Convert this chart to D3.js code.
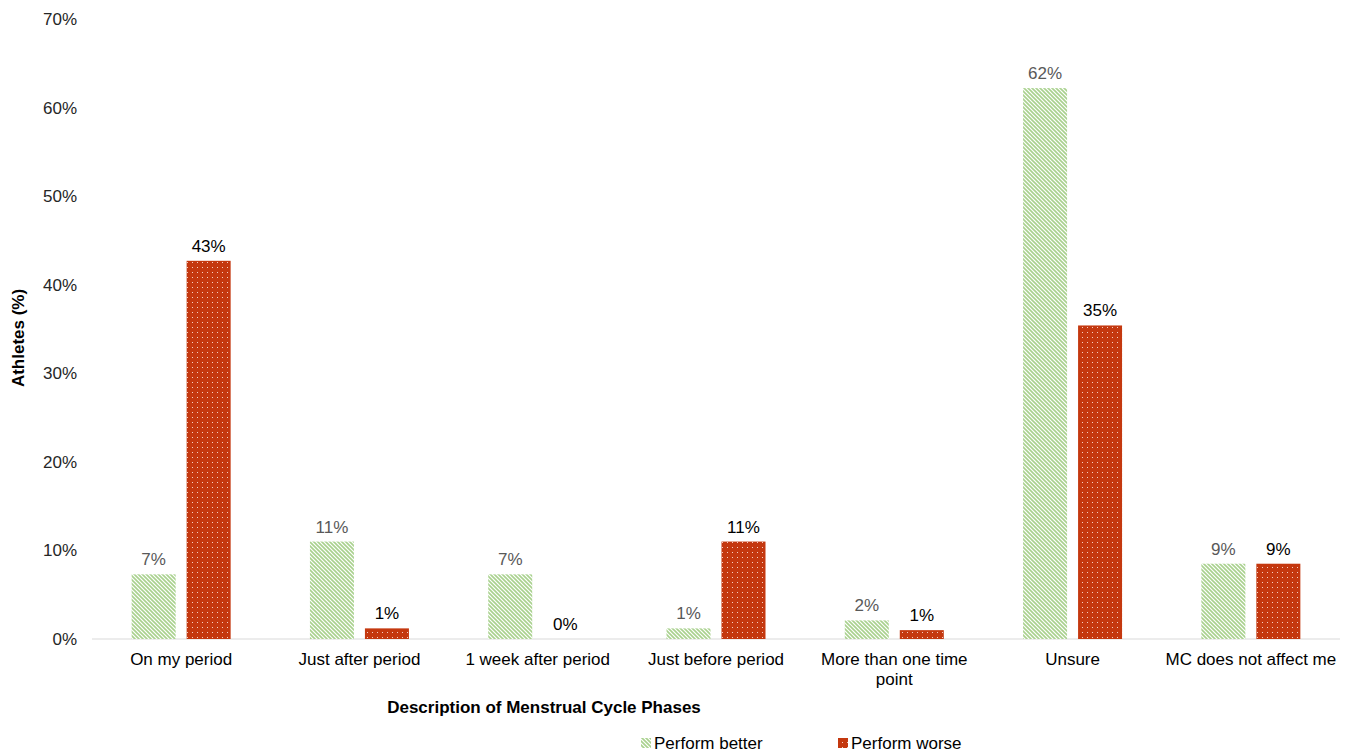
<!DOCTYPE html>
<html>
<head>
<meta charset="utf-8">
<script src="https://cdn.jsdelivr.net/npm/d3@7"></script>
<style>
  body { margin: 0; background: #fff; }
  svg text { font-family: "Liberation Sans", Arial, sans-serif; }
</style>
</head>
<body>
<div id="chart"></div>
<script>
(function () {
    let categories = ['On my period', 'Just after period', '1 week after period', 'Just before period',
        'More than one time point', 'Unsure', 'MC does not affect me'];
    let better = [7.3, 11.0, 7.3, 1.2, 2.1, 62.2, 8.5];
    let worse = [42.7, 1.2, 0, 11.0, 1.0, 35.4, 8.5];
    let betterLabels = ['7%', '11%', '7%', '1%', '2%', '62%', '9%'];
    let worseLabels = ['43%', '1%', '0%', '11%', '1%', '35%', '9%'];
    let seriesNames = ['Perform better', 'Perform worse'];
    let yTicks = [0, 10, 20, 30, 40, 50, 60, 70];

    let width = 1348, height = 752;
    let left = 92, right = 1340, top = 19, bottom = 639;
    let fs = 17;

    let svg = d3.select('#chart').append('svg')
        .attr('width', width)
        .attr('height', height);

    let defs = svg.append('defs');
    // green diagonal stripes
    let pg = defs.append('pattern')
        .attr('id', 'pat-better')
        .attr('patternUnits', 'userSpaceOnUse')
        .attr('width', 4).attr('height', 4);
    pg.append('rect').attr('width', 4).attr('height', 4).attr('fill', '#fff');
    pg.append('path')
        .attr('d', 'M-1,-1 L5,5 M-1,3 L1,5 M3,-1 L5,1')
        .attr('stroke', '#a9d18e')
        .attr('stroke-width', 1.6);
    // red with white dots
    let pr = defs.append('pattern')
        .attr('id', 'pat-worse')
        .attr('patternUnits', 'userSpaceOnUse')
        .attr('width', 5).attr('height', 5);
    pr.append('rect').attr('width', 5).attr('height', 5).attr('fill', '#c4380f');
    pr.append('rect').attr('x', 2).attr('y', 2).attr('width', 1).attr('height', 1).attr('fill', '#f4d0c4');

    let x = d3.scaleBand()
        .domain(categories)
        .range([left, right]);

    let xInner = d3.scaleBand()
        .domain([0, 1])
        .range([0, 99])
        .paddingInner(0.2);

    let y = d3.scaleLinear()
        .domain([0, 70])
        .range([bottom, top]);

    // y axis labels
    let axisY = d3.axisLeft(y)
        .tickValues(yTicks)
        .tickFormat(d => d + '%')
        .tickSize(0)
        .tickPadding(15);
    let gy = svg.append('g')
        .attr('transform', 'translate(' + left + ',0)')
        .call(axisY);
    gy.select('.domain').remove();
    gy.selectAll('text')
        .attr('font-size', fs)
        .attr('fill', '#262626')
        .attr('font-family', '"Liberation Sans", Arial, sans-serif');

    // baseline
    svg.append('line')
        .attr('x1', left).attr('x2', right)
        .attr('y1', bottom).attr('y2', bottom)
        .attr('stroke', '#d9d9d9');

    let series = [
        {values: better, labels: betterLabels, fill: 'url(#pat-better)', color: '#595959'},
        {values: worse, labels: worseLabels, fill: 'url(#pat-worse)', color: '#000'}
    ];

    series.forEach(function (s, si) {
        let g = svg.append('g');
        g.selectAll('rect')
            .data(s.values)
            .enter()
            .append('rect')
            .attr('x', (d, i) => x(categories[i]) + x.bandwidth() / 2 - 49.5 + xInner(si))
            .attr('y', d => y(d))
            .attr('width', xInner.bandwidth())
            .attr('height', d => bottom - y(d))
            .attr('fill', s.fill);
        g.selectAll('text')
            .data(s.values)
            .enter()
            .append('text')
            .attr('x', (d, i) => x(categories[i]) + x.bandwidth() / 2 - 49.5 + xInner(si) + xInner.bandwidth() / 2)
            .attr('y', d => y(d) - 9)
            .attr('text-anchor', 'middle')
            .attr('font-size', fs)
            .attr('fill', s.color)
            .text((d, i) => s.labels[i]);
    });

    // x category labels
    let axisX = d3.axisBottom(x).tickSize(0).tickPadding(14);
    let gx = svg.append('g')
        .attr('transform', 'translate(0,' + bottom + ')')
        .call(axisX);
    gx.select('.domain').remove();
    gx.selectAll('text')
        .attr('font-size', fs)
        .attr('fill', '#000')
        .attr('font-family', '"Liberation Sans", Arial, sans-serif')
        .each(function (d) {
            if (d === 'More than one time point') {
                let t = d3.select(this);
                t.text(null);
                t.append('tspan').attr('x', 0).attr('dy', '0.71em').text('More than one time');
                t.append('tspan').attr('x', 0).attr('dy', '1.2em').text('point');
                t.attr('dy', null);
            }
        });

    // axis titles
    svg.append('text')
        .attr('transform', 'translate(24,' + 338 + ') rotate(-90)')
        .attr('text-anchor', 'middle')
        .attr('font-size', fs)
        .attr('font-weight', 'bold')
        .text('Athletes (%)');

    svg.append('text')
        .attr('x', 544)
        .attr('y', 713)
        .attr('text-anchor', 'middle')
        .attr('font-size', fs)
        .attr('font-weight', 'bold')
        .text('Description of Menstrual Cycle Phases');

    // legend
    let legendX = [641, 838];
    seriesNames.forEach(function (name, i) {
        svg.append('rect')
            .attr('x', legendX[i]).attr('y', 738)
            .attr('width', 10).attr('height', 10)
            .attr('fill', series[i].fill);
        svg.append('text')
            .attr('x', legendX[i] + 13)
            .attr('y', 749)
            .attr('font-size', fs)
            .attr('fill', '#000')
            .text(name);
    });
})();
</script>
</body>
</html>
